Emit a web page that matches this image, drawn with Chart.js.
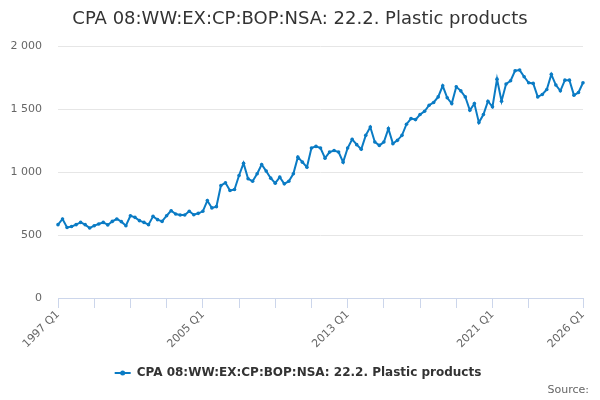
<!DOCTYPE html>
<html>
<head>
<meta charset="utf-8">
<script src="https://cdn.jsdelivr.net/npm/chart.js@4.4.1/dist/chart.umd.min.js"></script>
<style>
html,body{margin:0;padding:0;background:#fff;}
#wrap{width:600px;height:400px;}
</style>
</head>
<body>
<div id="wrap"><canvas id="c" width="600" height="400"></canvas></div>
<script>
const startYear = 1997;
const endYear = 2026;
const categories = [];
for (let y = startYear; y <= endYear; y++) {
  for (let q = 1; q <= 4; q++) {
    if (y === endYear && q > 1) break;
    categories.push(y + ' Q' + q);
  }
}
const seriesName = 'CPA 08:WW:EX:CP:BOP:NSA: 22.2. Plastic products';
const values = [
  582, 627, 560, 568, 582, 600, 582, 555, 574, 587, 600, 580,
  608, 627, 606, 574, 653, 640, 614, 600, 582, 648, 622, 608,
  653, 693, 667, 659, 659, 688, 661, 672, 688, 773, 715, 725,
  893, 914, 853, 861, 972, 1070, 946, 927, 986, 1060, 1007, 951,
  911, 959, 906, 927, 986, 1118, 1078, 1038, 1190, 1203, 1190, 1110,
  1158, 1171, 1158, 1078, 1190, 1259, 1217, 1180, 1291, 1357, 1238, 1211,
  1238, 1344, 1225, 1251, 1291, 1379, 1424, 1416, 1456, 1482, 1530, 1552,
  1596, 1684, 1589, 1543, 1676, 1644, 1596, 1490, 1543, 1392, 1456, 1562,
  1517, 1737, 1562, 1698, 1724, 1804, 1809, 1756, 1708, 1703, 1596, 1615,
  1655, 1775, 1690, 1644, 1729, 1729, 1610, 1631, 1708
];
const labelledTicks = ['1997 Q1', '2005 Q1', '2013 Q1', '2021 Q1', '2026 Q1'];
const markedTicks = ['1999 Q1','2001 Q1','2003 Q1','2007 Q1','2009 Q1','2011 Q1','2015 Q1','2017 Q1','2019 Q1','2023 Q1'];
const yTicks = [0, 500, 1000, 1500, 2000];
const sourceText = 'Source:';

const lineColor = '#0a7bc4';
const font = "'DejaVu Sans', sans-serif";

const textPlugin = {
  id: 'textBlocks',
  afterDraw(chart) {
    const ctx = chart.ctx;
    ctx.save();
    const ds = chart.data.datasets[0];
    // title
    ctx.font = '18px ' + font;
    ctx.fillStyle = '#333333';
    ctx.textAlign = 'center';
    ctx.textBaseline = 'middle';
    ctx.fillText(seriesName, 300, 19);
    // legend
    ctx.font = 'bold 12px ' + font;
    const tw = ctx.measureText(ds.label).width;
    const total = 16 + 6 + tw;
    const x0 = (chart.width - total) / 2 - 2;
    const y0 = 373;
    ctx.strokeStyle = ds.borderColor;
    ctx.lineWidth = 2;
    ctx.beginPath();
    ctx.moveTo(x0, y0);
    ctx.lineTo(x0 + 16, y0);
    ctx.stroke();
    ctx.fillStyle = ds.borderColor;
    ctx.beginPath();
    ctx.arc(x0 + 8, y0, 2.5, 0, Math.PI * 2);
    ctx.fill();
    ctx.fillStyle = '#333333';
    ctx.textAlign = 'left';
    ctx.fillText(ds.label, x0 + 22, y0);
    // source
    ctx.font = '11px ' + font;
    ctx.fillStyle = '#666666';
    ctx.textAlign = 'right';
    ctx.fillText(sourceText, 589, 390);
    ctx.restore();
  }
};

new Chart(document.getElementById('c'), {
  type: 'line',
  data: {
    labels: categories,
    datasets: [{
      label: seriesName,
      data: values,
      borderColor: lineColor,
      backgroundColor: lineColor,
      borderWidth: 2,
      pointRadius: 1.8,
      pointHoverRadius: 3,
      pointBackgroundColor: lineColor,
      pointBorderWidth: 0,
      tension: 0
    }]
  },
  options: {
    responsive: false,
    animation: false,
    layout: { padding: { left: 10, right: 17, top: 46, bottom: 30 } },
    plugins: {
      title: { display: false },
      legend: { display: false },
      tooltip: { enabled: false }
    },
    scales: {
      x: {
        type: 'category',
        offset: false,
        border: { display: true, color: '#ccd6eb', width: 1 },
        grid: {
          display: true,
          drawOnChartArea: false,
          drawTicks: true,
          tickLength: 10,
          color: '#ccd6eb'
        },
        ticks: {
          autoSkip: false,
          maxRotation: 45,
          minRotation: 45,
          color: '#666666',
          font: { family: font, size: 11 },
          padding: 0,
          callback: function(val) {
            const lab = categories[val];
            if (labelledTicks.includes(lab)) return lab;
            if (markedTicks.includes(lab)) return '';
            return null;
          }
        },
        afterFit(scale) { scale.height = 72; }
      },
      y: {
        min: 0,
        max: 2000,
        afterBuildTicks(scale) { scale.ticks = yTicks.map(v => ({ value: v })); },
        border: { display: false },
        grid: { color: '#e6e6e6', drawTicks: false },
        ticks: {
          color: '#666666',
          font: { family: font, size: 11 },
          padding: 16,
          callback: v => v.toLocaleString('en-US').replace(/,/g, ' ')
        },
        afterFit(scale) { scale.width = 48; }
      }
    }
  },
  plugins: [textPlugin]
});
</script>
</body>
</html>
